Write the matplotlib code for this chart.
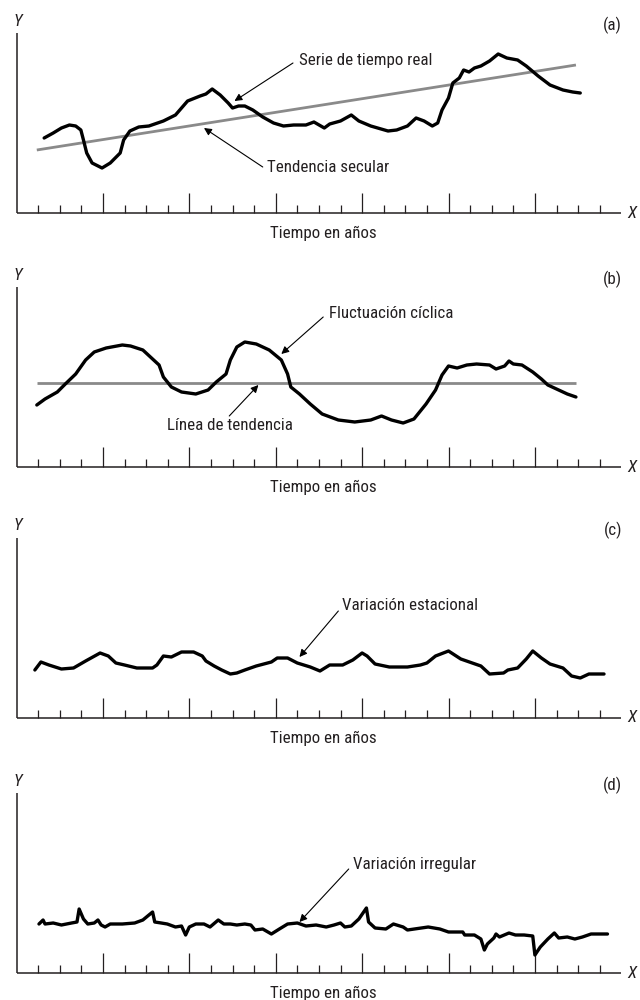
import matplotlib
matplotlib.use("Agg")
import matplotlib.pyplot as plt

plt.rcParams['font.family'] = ['Roboto Condensed', 'DejaVu Sans']

# Valores (x en años/marcas, y en unidades sobre el eje)
a_x = [1.28, 1.7, 2.08, 2.45, 2.74, 2.98, 3.1, 3.25, 3.5, 3.96, 4.34, 4.8, 4.96, 5.25,
       5.66, 6.13, 6.8, 7.36, 7.92, 8.5, 8.77, 9.06, 9.43, 9.8, 10.0, 10.28, 10.57, 10.94,
       11.4, 11.9, 12.36, 12.83, 13.4, 13.77, 14.25, 14.5, 15.0, 15.5, 15.85, 16.4, 17.2,
       17.6, 18.1, 18.5, 18.87, 19.25, 19.5, 19.7, 20.0, 20.2, 20.5, 20.7, 20.95, 21.2,
       21.5, 21.9, 22.3, 22.7, 23.2, 23.6, 24.15, 24.7, 25.3, 25.75, 26.1]
a_y = [75, 80, 85, 88, 87, 83, 73, 60, 50, 45, 50, 60, 73, 82,
       86, 87, 92, 98, 112, 117, 119, 124, 118, 110, 105, 107, 107, 103,
       96, 90, 87, 88, 88, 91, 85, 89, 92, 98, 92, 87, 82,
       83, 87, 95, 92, 87, 90, 103, 115, 130, 135, 143, 141, 145,
       147, 152, 159, 155, 153, 147, 137, 128, 123, 121, 120]
a_trend_x = [0.94, 25.9]
a_trend_y = [63, 148]

b_x = [0.94, 1.32, 1.89, 2.26, 2.74, 3.2, 3.6, 4.15, 4.9, 5.28, 5.85, 6.2, 6.6, 6.8,
       7.17, 7.64, 8.3, 8.87, 9.25, 9.7, 9.9, 10.2, 10.57, 11.1, 11.7, 12.26, 12.55,
       12.7, 13.1, 13.6, 14.15, 14.9, 15.66, 16.4, 16.9, 17.36, 17.9, 18.4, 18.96, 19.4,
       19.7, 20.0, 20.4, 20.85, 21.3, 21.9, 22.2, 22.6, 22.8, 23.0, 23.4, 23.9, 24.3,
       24.6, 25.1, 25.5, 25.9]
b_y = [62, 68, 75, 83, 93, 107, 115, 119, 122, 121, 117, 110, 102, 90,
       80, 75, 73, 77, 85, 93, 107, 120, 125, 123, 117, 107, 93,
       80, 73, 63, 53, 47, 45, 47, 51, 47, 44, 48, 63, 77,
       92, 101, 99, 102, 103, 102, 98, 101, 106, 103, 102, 95, 88,
       82, 77, 73, 70]
b_trend_x = [0.94, 25.9]
b_trend_y = [84, 84]

c_x = [0.85, 1.13, 1.5, 2.08, 2.64, 3.2, 3.87, 4.25, 4.6, 5.0, 5.57, 6.3, 6.5, 6.8,
       7.17, 7.64, 8.2, 8.6, 8.77, 9.15, 9.5, 9.9, 10.2, 10.57, 11.1, 11.8, 12.07,
       12.55, 13.0, 13.6, 14.05, 14.5, 15.1, 15.57, 16.0, 16.23, 16.6, 17.26, 18.1,
       18.7, 19.0, 19.4, 20.0, 20.57, 21.1, 21.5, 21.9, 22.55, 22.75, 23.2, 23.6,
       23.9, 24.3, 24.7, 25.3, 25.7, 26.1, 26.5, 27.2]
c_y = [48, 56, 53, 49, 50, 57, 65, 62, 55, 53, 50, 50, 53, 62,
       61, 66, 66, 62, 57, 52, 48, 44, 45, 48, 52, 56, 60,
       60, 55, 51, 47, 53, 53, 58, 65, 62, 54, 51, 51,
       53, 55, 62, 67, 59, 55, 52, 44, 45, 48, 50, 59,
       67, 60, 54, 50, 42, 40, 44, 44]

d_x = [1.04, 1.23, 1.32, 1.7, 2.08, 2.55, 2.8, 2.9, 3.1, 3.3, 3.6, 3.77, 3.92, 4.1, 4.34,
       4.9, 5.47, 5.85, 6.13, 6.3, 6.4, 6.7, 6.98, 7.36, 7.64, 7.83, 8.0, 8.3, 8.68,
       8.96, 9.34, 9.6, 9.9, 10.2, 10.57, 10.85, 11.04, 11.4, 11.8, 12.17, 12.55, 13.0,
       13.4, 13.87, 14.34, 14.7, 15.0, 15.2, 15.5, 15.85, 16.2, 16.3, 16.6, 17.1, 17.45,
       17.9, 18.1, 19.06, 19.6, 20.0, 20.66, 20.75, 21.2, 21.5, 21.66, 21.8, 22.1, 22.2,
       22.36, 22.8, 23.1, 23.5, 23.9, 24.0, 24.25, 24.6, 24.9, 25.1, 25.5, 25.85, 26.2,
       26.6, 27.36]
d_y = [49, 53, 49, 50, 48, 50, 51, 64, 54, 49, 50, 53, 48, 46, 49,
       49, 50, 53, 58, 61, 51, 50, 49, 46, 47, 38, 46, 49, 49,
       46, 53, 49, 49, 48, 49, 48, 43, 44, 39, 44, 49, 50,
       47, 48, 46, 48, 50, 46, 47, 54, 65, 51, 45, 44, 49,
       46, 43, 46, 44, 41, 41, 38, 38, 34, 23, 29, 35, 39,
       36, 40, 38, 38, 37, 18, 26, 34, 40, 35, 36, 34, 36,
       39, 39]

ticks = list(range(1, 28))
panel_tags = ['(a)', '(b)', '(c)', '(d)']
x_title = 'Tiempo en años'

# (texto, posición del texto, punta de flecha, inicio de flecha)
notes = [
    [('Serie de tiempo real', (13.1, 153), (10.09, 112), (12.8, 150)),
     ('Tendencia secular', (11.6, 46), (8.68, 85), (11.4, 46))],
    [('Fluctuación cíclica', (14.45, 154), (12.26, 113), (14.2, 150)),
     ('Línea de tendencia', (6.95, 42), (11.2, 82), (9.85, 51))],
    [('Variación estacional', (15.06, 113), (13.1, 61), (14.9, 107))],
    [('Variación irregular', (15.57, 109), (13.1, 51), (15.38, 104))],
]

series = [(a_x, a_y), (b_x, b_y), (c_x, c_y), (d_x, d_y)]
trends = [(a_trend_x, a_trend_y), (b_trend_x, b_trend_y), None, None]
baselines = [213, 467, 718, 973]   # píxeles desde arriba

ink = '#231f20'
fs = 12.2
W, H = 640, 1000
px = 21.6        # píxeles por marca
x0 = 16.5        # posición del eje Y

fig = plt.figure(figsize=(6.4, 10), dpi=100)

for i in range(4):
    base = baselines[i]
    ax = fig.add_axes([0, (H - base - 40) / H, 1, 250 / H])
    ax.set_xlim(-x0 / px, (W - x0) / px)
    ax.set_ylim(-40, 210)
    ax.axis('off')

    # ejes
    ax.plot([0, 0], [0, 180], color=ink, lw=1.1, solid_capstyle='butt')
    ax.plot([0, 28.0], [0, 0], color=ink, lw=1.1, solid_capstyle='butt')
    for t in ticks:
        h = 20 if t % 4 == 0 else 8
        ax.plot([t, t], [0, h], color=ink, lw=0.9, solid_capstyle='butt')

    ax.text(0.07, 192, 'Y', style='italic', fontsize=fs, color=ink,
            ha='center', va='center')
    ax.text(28.5, 0, 'X', style='italic', fontsize=fs, color=ink,
            ha='center', va='center')
    ax.text(28.03, 188, panel_tags[i], fontsize=fs, color=ink,
            ha='right', va='center')
    ax.text(14.2, -25, x_title, fontsize=fs, color=ink,
            ha='center', va='baseline')

    if trends[i] is not None:
        tx, ty = trends[i]
        ax.plot(tx, ty, color='#8a8a8a', lw=2.0, solid_capstyle='butt', zorder=2)

    sx, sy = series[i]
    ax.plot(sx, sy, color='black', lw=2.4, solid_joinstyle='round',
            solid_capstyle='round', zorder=3)

    for label, tpos, tip, start in notes[i]:
        ax.text(tpos[0], tpos[1], label, fontsize=fs, color=ink,
                ha='left', va='center')
        ax.annotate('', xy=tip, xytext=start,
                    arrowprops=dict(arrowstyle='-|>', color='black', lw=0.8,
                                    mutation_scale=11, shrinkA=0, shrinkB=0))

fig.savefig('out.png', dpi=100)
